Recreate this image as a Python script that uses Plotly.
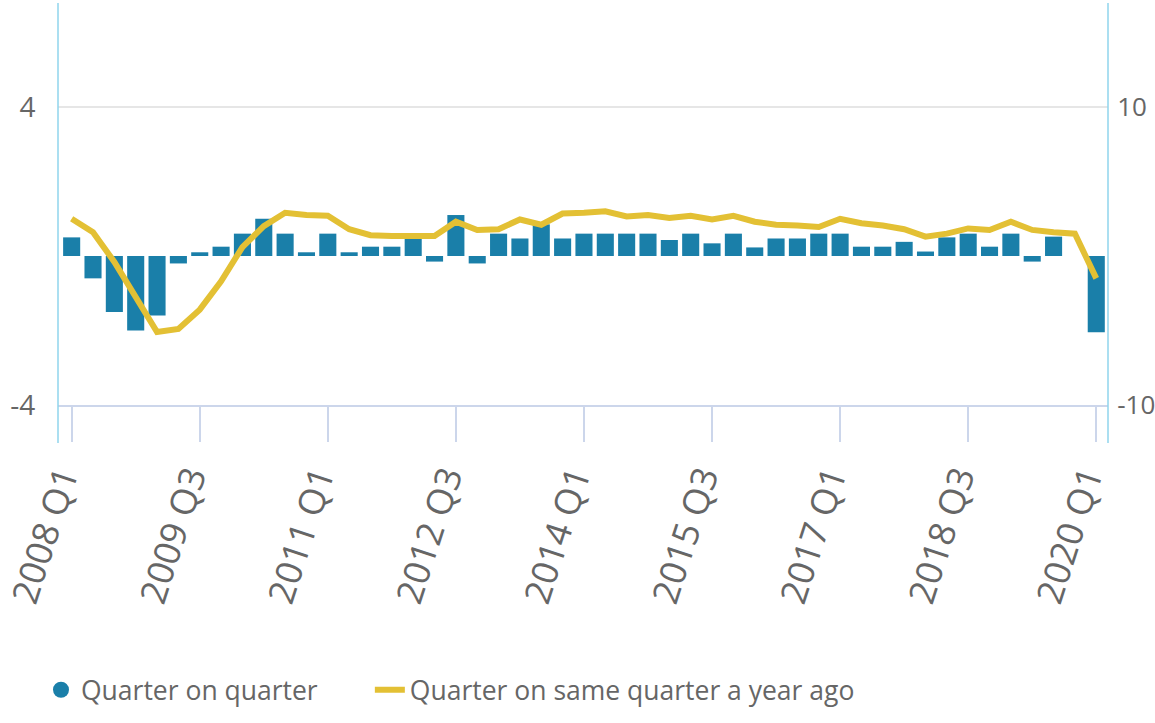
import plotly.graph_objects as go

categories = [
    "2008 Q1", "2008 Q2", "2008 Q3", "2008 Q4",
    "2009 Q1", "2009 Q2", "2009 Q3", "2009 Q4",
    "2010 Q1", "2010 Q2", "2010 Q3", "2010 Q4",
    "2011 Q1", "2011 Q2", "2011 Q3", "2011 Q4",
    "2012 Q1", "2012 Q2", "2012 Q3", "2012 Q4",
    "2013 Q1", "2013 Q2", "2013 Q3", "2013 Q4",
    "2014 Q1", "2014 Q2", "2014 Q3", "2014 Q4",
    "2015 Q1", "2015 Q2", "2015 Q3", "2015 Q4",
    "2016 Q1", "2016 Q2", "2016 Q3", "2016 Q4",
    "2017 Q1", "2017 Q2", "2017 Q3", "2017 Q4",
    "2018 Q1", "2018 Q2", "2018 Q3", "2018 Q4",
    "2019 Q1", "2019 Q2", "2019 Q3", "2019 Q4",
    "2020 Q1",
]

# Quarter on quarter growth (%), left axis
qoq = [
    0.5, -0.6, -1.5, -2.0,
    -1.6, -0.2, 0.1, 0.25,
    0.6, 1.0, 0.6, 0.1,
    0.6, 0.1, 0.25, 0.25,
    0.6, -0.15, 1.1, -0.2,
    0.6, 0.47, 0.85, 0.47,
    0.6, 0.6, 0.6, 0.6,
    0.43, 0.6, 0.34, 0.6,
    0.23, 0.47, 0.47, 0.6,
    0.6, 0.25, 0.25, 0.38,
    0.12, 0.5, 0.6, 0.25,
    0.6, -0.15, 0.52, 0.0,
    -2.05,
]

# Quarter on same quarter a year ago (%), right axis
yoy = [
    2.5, 1.6, -0.4, -2.7,
    -5.1, -4.9, -3.6, -1.7,
    0.6, 2.0, 2.9, 2.75,
    2.7, 1.8, 1.4, 1.35,
    1.35, 1.35, 2.3, 1.75,
    1.8, 2.45, 2.1, 2.85,
    2.9, 3.0, 2.65, 2.75,
    2.55, 2.7, 2.45, 2.7,
    2.3, 2.1, 2.05, 1.95,
    2.5, 2.2, 2.05, 1.8,
    1.3, 1.5, 1.85, 1.75,
    2.3, 1.75, 1.6, 1.5,
    -1.5,
]

tick_labels = ["2008 Q1", "2009 Q3", "2011 Q1", "2012 Q3", "2014 Q1",
               "2015 Q3", "2017 Q1", "2018 Q3", "2020 Q1"]
left_ticks = [-4, 4]
left_tick_text = ["-4", "4"]
right_ticks = [-10, 10]
right_tick_text = ["-10", "10"]

BAR = "#1a7fa9"
LINE = "#e3c034"
GREY = "#666666"
FONT = "Open Sans, sans-serif"

fig = go.Figure()
fig.add_trace(go.Bar(
    x=categories, y=qoq, marker=dict(color=BAR, line=dict(width=0)),
    showlegend=False, yaxis="y", hoverinfo="x+y",
))
fig.add_trace(go.Scatter(
    x=[categories[0]], y=[None], mode="markers",
    marker=dict(symbol="circle", size=16, color=BAR),
    name="Quarter on quarter", yaxis="y", legend="legend",
))
fig.add_trace(go.Scatter(
    x=categories, y=yoy, mode="lines",
    line=dict(color=LINE, width=6),
    name="Quarter on same quarter a year ago", yaxis="y2", legend="legend2",
))

fig.update_layout(
    width=1155, height=723,
    margin=dict(l=58, r=47, t=3, b=318),
    paper_bgcolor="white", plot_bgcolor="white",
    font=dict(family=FONT, color=GREY),
    bargap=0.2,
    xaxis=dict(
        type="category", range=[-0.64, 48.55], automargin=False,
        tickmode="array", tickvals=tick_labels, ticktext=tick_labels,
        tickangle=-72, ticks="outside", ticklen=35, tickwidth=2,
        tickcolor="#ccd6eb", showline=True, linecolor="#ccd6eb", linewidth=2,
        showgrid=False, tickfont=dict(size=36, color=GREY),
        ticklabelshift=-10,
    ),
    yaxis=dict(
        range=[-4, 6.792], tickmode="array", tickvals=left_ticks,
        ticktext=left_tick_text, automargin=False,
        showgrid=True, gridcolor="#e6e6e6", gridwidth=2,
        zeroline=False, showline=False,
        ticks="outside", ticklen=16, tickcolor="rgba(0,0,0,0)",
        tickfont=dict(size=28, color=GREY),
    ),
    yaxis2=dict(
        overlaying="y", side="right", range=[-10, 16.98],
        tickmode="array", tickvals=right_ticks, ticktext=right_tick_text,
        automargin=False,
        showgrid=False, zeroline=False, showline=False,
        ticks="outside", ticklen=3, tickcolor="rgba(0,0,0,0)",
        tickfont=dict(size=26, color=GREY),
    ),
    legend=dict(
        orientation="h", x=-0.0162, xanchor="left", y=-0.709, yanchor="middle",
        font=dict(size=26.5, color=GREY), bgcolor="rgba(0,0,0,0)",
    ),
    legend2=dict(
        orientation="h", x=0.297, xanchor="left", y=-0.709, yanchor="middle",
        font=dict(size=26.5, color=GREY), bgcolor="rgba(0,0,0,0)",
    ),
    shapes=[
        dict(type="line", xref="paper", yref="paper", x0=0, x1=0, y0=-0.0945, y1=1.0,
             line=dict(color="#8fd4ec", width=1.5)),
        dict(type="line", xref="paper", yref="paper", x0=1, x1=1, y0=-0.0945, y1=1.0,
             line=dict(color="#8fd4ec", width=1.5)),
    ],
)

fig.write_html(
    "out.html",
    config={"displayModeBar": False},
    post_script="document.body.style.margin='0';",
)
